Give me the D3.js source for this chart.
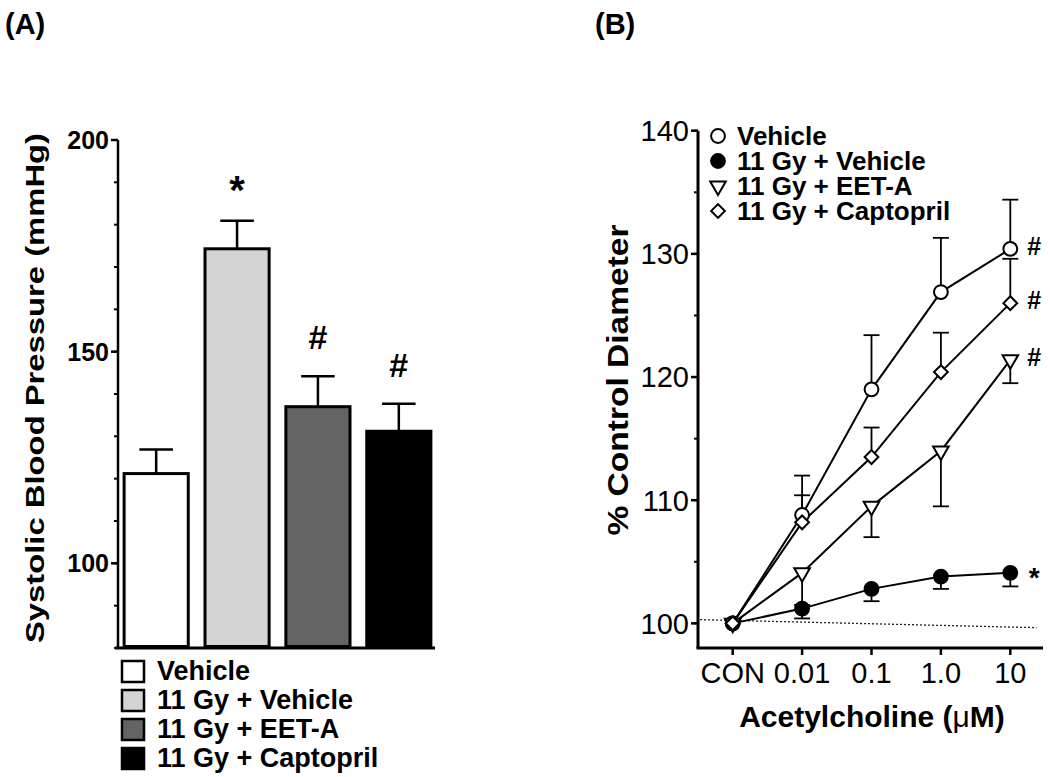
<!DOCTYPE html>
<html>
<head>
<meta charset="utf-8">
<script src="https://cdn.jsdelivr.net/npm/d3@7"></script>
<style>
  body { margin: 0; background: #fff; }
  svg { display: block; }
  text { font-family: "Liberation Sans", Arial, Helvetica, sans-serif; fill: #000; }
</style>
</head>
<body>
<svg id="chart" width="1050" height="777"></svg>
<script>
// ---------- Panel A data ----------
const groups = ["Vehicle", "11 Gy + Vehicle", "11 Gy + EET-A", "11 Gy + Captopril"];
const sbpMean = [121.2, 174.3, 137.0, 131.2];
const sbpSem  = [5.7, 6.6, 7.2, 6.5];
const sbpMarks = ["", "*", "#", "#"];
const barFills = ["#ffffff", "#d4d4d4", "#646464", "#000000"];
const sbpTicks = [100, 150, 200];
const sbpMinorTicks = [80, 90, 100, 110, 120, 130, 140, 150, 160, 170, 180, 190, 200];

// ---------- Panel B data ----------
const doses = ["CON", "0.01", "0.1", "1.0", "10"];
const seriesNames = ["Vehicle", "11 Gy + Vehicle", "11 Gy + EET-A", "11 Gy + Captopril"];
const vehicleMean   = [100, 108.8, 119.0, 126.9, 130.4];
const vehicleErr    = [0, 3.2, 4.4, 4.4, 4.0];
const gyVehicleMean = [100, 101.2, 102.8, 103.8, 104.1];
const gyVehicleErr  = [0, 0.8, 1.0, 1.0, 1.1];
const eetMean       = [100, 104.1, 109.5, 114.0, 121.4];
const eetErr        = [0, 2.6, 2.5, 4.5, 1.9];
const captoMean     = [100, 108.2, 113.5, 120.4, 126.0];
const captoErr      = [0, 2.2, 2.4, 3.2, 3.6];
const errDirection  = [1, -1, -1, 1];      // +1 upward bars, -1 downward bars
const endMarks      = ["#", "*", "#", "#"];
const diamTicks = [100, 110, 120, 130, 140];
const diamMinorTicks = [100, 105, 110, 115, 120, 125, 130, 135, 140];
const dottedIdx = [-0.47, 4.38];
const dottedVal = [100.3, 99.65];

const svg = d3.select("#chart");

// Panel labels
svg.append("text").attr("x", 5).attr("y", 34).attr("font-size", 29).attr("font-weight", "bold").text("(A)");
svg.append("text").attr("x", 595).attr("y", 34).attr("font-size", 29).attr("font-weight", "bold").text("(B)");

// ================= PANEL A =================
const yA = d3.scaleLinear().domain([80, 200]).range([648, 140]);
const xA = d3.scaleBand().domain(groups).range([121, 434]).paddingInner(0.17).paddingOuter(0.02);
const axAx = 118;
const gA = svg.append("g");

// y axis
gA.append("line").attr("x1", axAx).attr("x2", axAx).attr("y1", yA(200)).attr("y2", yA(80))
  .attr("stroke", "#000").attr("stroke-width", 2.5);
gA.selectAll(".minA").data(sbpMinorTicks).join("line")
  .attr("x1", axAx - 4).attr("x2", axAx).attr("y1", d => yA(d)).attr("y2", d => yA(d))
  .attr("stroke", "#000").attr("stroke-width", 2);
gA.selectAll(".majA").data(sbpTicks).join("line")
  .attr("x1", axAx - 7).attr("x2", axAx).attr("y1", d => yA(d)).attr("y2", d => yA(d))
  .attr("stroke", "#000").attr("stroke-width", 2.5);
gA.selectAll(".labA").data(sbpTicks).join("text")
  .attr("x", axAx - 9).attr("y", d => yA(d)).attr("dy", "0.36em")
  .attr("text-anchor", "end").attr("font-size", 25).attr("font-weight", "bold")
  .text(d => d);

// x axis line
gA.append("line").attr("x1", 115).attr("x2", 435).attr("y1", yA(80)).attr("y2", yA(80))
  .attr("stroke", "#000").attr("stroke-width", 3);

// error bars (upward only)
groups.forEach((g, i) => {
  const cx = xA(g) + xA.bandwidth() / 2;
  const half = xA.bandwidth() / 4;
  gA.append("line").attr("x1", cx).attr("x2", cx)
    .attr("y1", yA(sbpMean[i])).attr("y2", yA(sbpMean[i] + sbpSem[i]))
    .attr("stroke", "#000").attr("stroke-width", 2.5);
  gA.append("line").attr("x1", cx - half).attr("x2", cx + half)
    .attr("y1", yA(sbpMean[i] + sbpSem[i])).attr("y2", yA(sbpMean[i] + sbpSem[i]))
    .attr("stroke", "#000").attr("stroke-width", 2.5);
});

// bars
gA.selectAll(".bar").data(groups).join("rect")
  .attr("x", d => xA(d) + 1.5)
  .attr("y", (d, i) => yA(sbpMean[i]))
  .attr("width", xA.bandwidth() - 3)
  .attr("height", (d, i) => yA(80) - yA(sbpMean[i]) - 1.5)
  .attr("fill", (d, i) => barFills[i])
  .attr("stroke", "#000").attr("stroke-width", 3);

// significance marks
groups.forEach((g, i) => {
  if (!sbpMarks[i]) return;
  const cx = xA(g) + xA.bandwidth() / 2;
  const top = yA(sbpMean[i] + sbpSem[i]);
  const isStar = sbpMarks[i] === "*";
  gA.append("text").attr("x", cx).attr("y", isStar ? top - 17 : top - 27)
    .attr("text-anchor", "middle").attr("font-weight", "bold")
    .attr("font-size", isStar ? 40 : 34).text(sbpMarks[i]);
});

// y title
gA.append("text").attr("transform", "translate(44,388) rotate(-90)")
  .attr("text-anchor", "middle").attr("font-size", 26).attr("font-weight", "bold")
  .attr("textLength", 510).attr("lengthAdjust", "spacingAndGlyphs")
  .text("Systolic Blood Pressure (mmHg)");

// legend A
const legA = gA.append("g");
groups.forEach((g, i) => {
  const y0 = 660 + i * 29;
  legA.append("rect").attr("x", 122).attr("y", y0 + 1).attr("width", 22).attr("height", 21)
    .attr("fill", barFills[i]).attr("stroke", "#000").attr("stroke-width", 2.5);
  legA.append("text").attr("x", 157).attr("y", y0 + 20).attr("font-size", 27)
    .attr("font-weight", "bold").text(g);
});

// ================= PANEL B =================
const xB = d3.scalePoint().domain(doses).range([698, 1045]).padding(0.5);
const xBi = d3.scaleLinear().domain([0, doses.length - 1]).range([xB(doses[0]), xB(doses[doses.length - 1])]);
const yB = d3.scaleLinear().domain([98, 140]).range([648, 130.7]);
const axBx = 698;
const gB = svg.append("g");

// axes
gB.append("line").attr("x1", axBx).attr("x2", axBx).attr("y1", yB(140)).attr("y2", yB(98))
  .attr("stroke", "#000").attr("stroke-width", 3);
gB.append("line").attr("x1", axBx - 1.5).attr("x2", 1043).attr("y1", yB(98)).attr("y2", yB(98))
  .attr("stroke", "#000").attr("stroke-width", 3);
gB.selectAll(".minB").data(diamMinorTicks).join("line")
  .attr("x1", axBx - 4).attr("x2", axBx).attr("y1", d => yB(d)).attr("y2", d => yB(d))
  .attr("stroke", "#000").attr("stroke-width", 2);
gB.selectAll(".majB").data(diamTicks).join("line")
  .attr("x1", axBx - 7).attr("x2", axBx).attr("y1", d => yB(d)).attr("y2", d => yB(d))
  .attr("stroke", "#000").attr("stroke-width", 2.5);
gB.selectAll(".labB").data(diamTicks).join("text")
  .attr("x", axBx - 9).attr("y", d => yB(d)).attr("dy", "0.36em")
  .attr("text-anchor", "end").attr("font-size", 29).text(d => d);
gB.selectAll(".xtB").data(doses).join("line")
  .attr("x1", d => xB(d)).attr("x2", d => xB(d)).attr("y1", yB(98)).attr("y2", yB(98) + 7)
  .attr("stroke", "#000").attr("stroke-width", 2.5);
gB.selectAll(".xlB").data(doses).join("text")
  .attr("x", d => xB(d)).attr("y", 683).attr("text-anchor", "middle")
  .attr("font-size", 29).text(d => d);

// axis titles
gB.append("text").attr("transform", "translate(628,380) rotate(-90)")
  .attr("text-anchor", "middle").attr("font-size", 29).attr("font-weight", "bold")
  .attr("textLength", 311).attr("lengthAdjust", "spacingAndGlyphs")
  .text("% Control Diameter");
const xt = gB.append("text").attr("x", 872).attr("y", 727).attr("text-anchor", "middle")
  .attr("font-size", 30).attr("font-weight", "bold");
xt.append("tspan").text("Acetylcholine (");
xt.append("tspan").attr("font-weight", "normal").text("\u03BC");
xt.append("tspan").text("M)");

// dotted reference line
gB.append("line")
  .attr("x1", xBi(dottedIdx[0])).attr("x2", xBi(dottedIdx[1]))
  .attr("y1", yB(dottedVal[0])).attr("y2", yB(dottedVal[1]))
  .attr("stroke", "#222").attr("stroke-width", 1.3).attr("stroke-dasharray", "2,2");

const means = [vehicleMean, gyVehicleMean, eetMean, captoMean];
const errs = [vehicleErr, gyVehicleErr, eetErr, captoErr];

// symbols
const circle = d3.symbol().type(d3.symbolCircle).size(150)();
const tri = d3.symbol().type(d3.symbolTriangle).size(105)();
const dia = d3.symbol().type(d3.symbolSquare).size(95)();
const symDefs = [
  { path: circle, fill: "#fff", rot: 0 },
  { path: circle, fill: "#000", rot: 0 },
  { path: tri, fill: "#fff", rot: 180 },
  { path: dia, fill: "#fff", rot: 45 }
];

const line = d3.line().x((d, i) => xB(doses[i])).y(d => yB(d));

// error bars
means.forEach((m, s) => {
  m.forEach((v, i) => {
    if (errs[s][i] <= 0) return;
    const cx = xB(doses[i]);
    const end = v + errDirection[s] * errs[s][i];
    gB.append("line").attr("x1", cx).attr("x2", cx).attr("y1", yB(v)).attr("y2", yB(end))
      .attr("stroke", "#000").attr("stroke-width", 1.8);
    gB.append("line").attr("x1", cx - 8).attr("x2", cx + 8).attr("y1", yB(end)).attr("y2", yB(end))
      .attr("stroke", "#000").attr("stroke-width", 1.8);
  });
});

// lines
means.forEach(m => {
  gB.append("path").attr("d", line(m)).attr("fill", "none")
    .attr("stroke", "#000").attr("stroke-width", 2);
});

// markers
means.forEach((m, s) => {
  gB.selectAll(null).data(m).join("path")
    .attr("d", symDefs[s].path)
    .attr("transform", (d, i) => `translate(${xB(doses[i])},${yB(d)}) rotate(${symDefs[s].rot})`)
    .attr("fill", symDefs[s].fill).attr("stroke", "#000").attr("stroke-width", 2);
});

// end annotations
means.forEach((m, s) => {
  const last = m.length - 1;
  const cy = yB(m[last]);
  const isStar = endMarks[s] === "*";
  gB.append("text").attr("x", xB(doses[last]) + 24)
    .attr("y", isStar ? cy + 14 : cy + 6)
    .attr("text-anchor", "middle").attr("font-weight", "bold")
    .attr("font-size", isStar ? 28 : 25).text(endMarks[s]);
});

// legend B
seriesNames.forEach((n, s) => {
  const cy = 136 + s * 25;
  gB.append("path").attr("d", symDefs[s].path)
    .attr("transform", `translate(718,${cy}) rotate(${symDefs[s].rot})`)
    .attr("fill", symDefs[s].fill).attr("stroke", "#000").attr("stroke-width", 2);
  gB.append("text").attr("x", 737).attr("y", cy + 9).attr("font-size", 26)
    .attr("font-weight", "bold").text(n);
});
</script>
</body>
</html>
